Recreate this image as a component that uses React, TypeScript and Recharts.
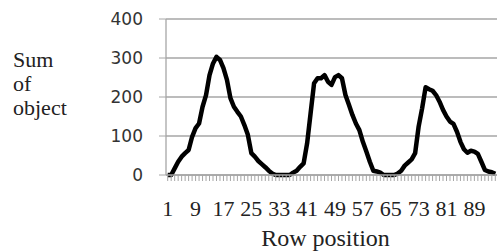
import { LineChart, Line, XAxis, YAxis, CartesianGrid } from "recharts";

const rows = Array.from({ length: 95 }, (_, i) => i + 1);

const objectSums = [
  0, 0, 17, 34, 47, 56, 64, 98, 120, 132,
  175, 205, 256, 286, 303, 295, 274, 244, 197, 175,
  162, 150, 128, 103, 56, 47, 36, 28, 20, 11,
  4, 0, 0, 0, 0, 0, 6, 11, 21, 30,
  81, 158, 235, 248, 248, 256, 239, 231, 251, 256,
  248, 205, 180, 154, 132, 115, 85, 60, 34, 11,
  9, 6, 0, 0, 0, 0, 4, 11, 24, 32,
  40, 56, 124, 171, 225, 220, 216, 205, 188, 167,
  150, 137, 131, 111, 85, 66, 57, 62, 60, 54,
  34, 13, 9, 7, 3,
];

const yTicks = [0, 100, 200, 300, 400];
const labelEvery = 8;

const data = rows.map((row, i) => ({ row, value: objectSums[i] }));

const serif = "Liberation Serif";

function RowTick(props: any) {
  const { x, y, payload } = props;
  if ((payload.value - 1) % labelEvery !== 0) return null;
  return (
    <text x={x} y={y} dy={33} textAnchor="middle" fontFamily={serif} fontSize={22} fill="#222">
      {payload.value}
    </text>
  );
}

export default function App() {
  return (
    <div style={{ position: "absolute", left: 0, top: 0, width: 497, height: 251, background: "#fff", fontFamily: serif }}>
      <LineChart width={497} height={251} data={data} margin={{ top: 19, right: 0, left: 0, bottom: 0 }}>
        <CartesianGrid vertical={false} stroke="#a6a6a6" strokeWidth={1.3} />
        <XAxis
          dataKey="row"
          interval={0}
          height={76}
          padding={{ left: 1.7, right: 1.7 }}
          axisLine={{ stroke: "#a6a6a6", strokeWidth: 1.3 }}
          tickLine={{ stroke: "#a6a6a6" }}
          tickSize={6}
          tick={<RowTick />}
          label={{
            value: "Row position",
            position: "insideBottom",
            offset: 5,
            dx: -6,
            fontFamily: serif,
            fontSize: 24,
            fill: "#222",
          }}
        />
        <YAxis
          width={166}
          domain={[0, 400]}
          ticks={yTicks}
          axisLine={{ stroke: "#a6a6a6", strokeWidth: 1.3 }}
          tickLine={{ stroke: "#a6a6a6" }}
          tickSize={7}
          tickMargin={16}
          tick={{ fontFamily: "DejaVu Sans", fontSize: 17, fill: "#333" }}
          label={{
            content: () => (
              <text fontFamily={serif} fontSize={22} fill="#222">
                <tspan x={13} y={67}>Sum</tspan>
                <tspan x={13} y={91}>of</tspan>
                <tspan x={13} y={115}>object</tspan>
              </text>
            ),
          }}
        />
        <Line
          type="linear"
          dataKey="value"
          stroke="#000"
          strokeWidth={4.5}
          strokeLinejoin="round"
          dot={false}
          isAnimationActive={false}
        />
      </LineChart>
    </div>
  );
}
